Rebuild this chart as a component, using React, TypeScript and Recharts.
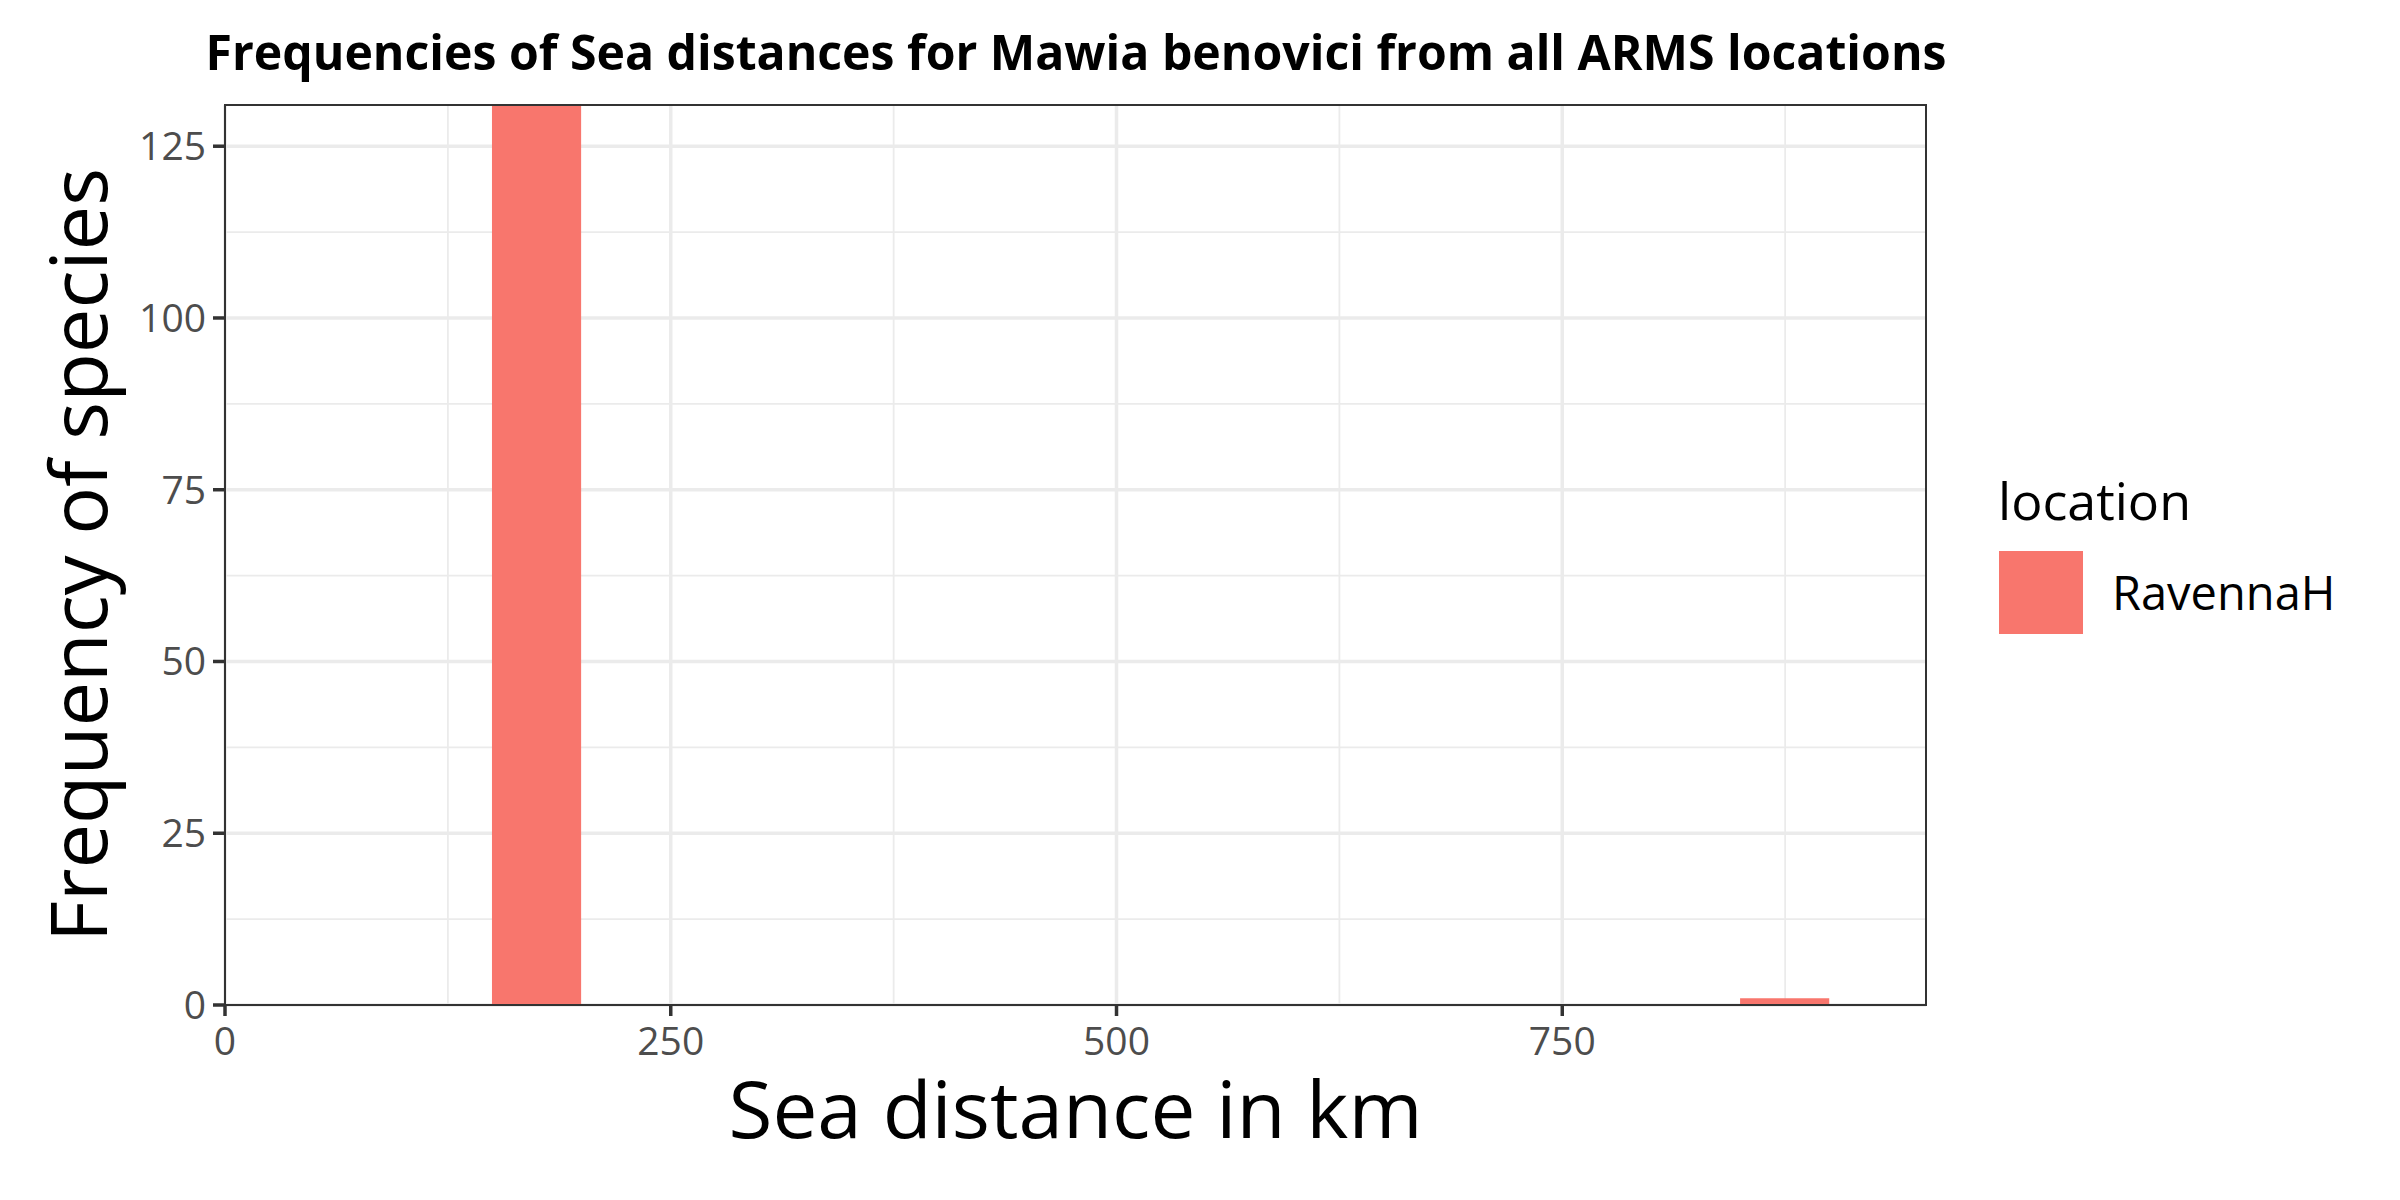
import React from "react";
import { BarChart, Bar, XAxis, YAxis, CartesianGrid, Legend, ReferenceArea } from "recharts";

// histogram bins (km) and counts
const binStart = [150, 850];
const binEnd = [200, 900];
const counts = [142, 1];
const seriesName = "RavennaH";

const xTicks = [0, 250, 500, 750];
const xMinor = [125, 375, 625, 875];
const yTicks = [0, 25, 50, 75, 100, 125];
const yMinor = [12.5, 37.5, 62.5, 87.5, 112.5];

const X_MAX = 954;
const Y_MAX = 131;

const W = 2400;
const H = 1200;
const PLOT_LEFT = 225;
const PLOT_RIGHT = 1926;
const PLOT_TOP = 105;
const PLOT_BOTTOM = 1005;
const X_AXIS_H = 60;

const FONT = "'Open Sans', 'DejaVu Sans', sans-serif";
const BAR_FILL = "#F8766D";
const INK = "#333333";

const data = binStart.map((s, i) => ({ mid: (s + binEnd[i]) / 2, count: counts[i] }));
const barPx = ((binEnd[0] - binStart[0]) / X_MAX) * (PLOT_RIGHT - PLOT_LEFT);

const tickStyle = { fontSize: 39, fill: "#4D4D4D", fontFamily: FONT };
const tickLine = { stroke: INK, strokeWidth: 3.5 };
const border = { stroke: INK, strokeWidth: 2 };

function LegendBox({ payload }: any) {
  const item = payload && payload[0];
  return (
    <svg width={400} height={220} style={{ overflow: "visible" }}>
      <text x={8} y={80} fontSize={52} fontFamily={FONT} fill="#000">location</text>
      <rect x={9} y={111} width={84} height={83} fill={item ? item.color : BAR_FILL} />
      <text x={122} y={170} fontSize={47} fontFamily={FONT} fill="#000">{item ? item.value : seriesName}</text>
    </svg>
  );
}

export default function App() {
  const midY = (PLOT_TOP + PLOT_BOTTOM) / 2;
  return (
    <div style={{ position: "absolute", left: 0, top: 0, width: W, height: H, background: "#fff" }}>
      <BarChart
        width={W}
        height={H}
        data={data}
        margin={{ top: PLOT_TOP, right: W - PLOT_RIGHT, bottom: H - PLOT_BOTTOM - X_AXIS_H, left: 0 }}
      >
        <CartesianGrid stroke="#EBEBEB" strokeWidth={1.8} horizontalValues={yMinor} verticalValues={xMinor} />
        <CartesianGrid stroke="#EBEBEB" strokeWidth={3.5} horizontalValues={yTicks} verticalValues={xTicks} />
        <XAxis
          type="number"
          dataKey="mid"
          domain={[0, X_MAX]}
          ticks={xTicks}
          allowDataOverflow
          height={X_AXIS_H}
          tickSize={11}
          tickMargin={11}
          tick={tickStyle}
          tickLine={tickLine}
          axisLine={border}
        />
        <YAxis
          type="number"
          domain={[0, Y_MAX]}
          ticks={yTicks}
          allowDataOverflow
          width={PLOT_LEFT}
          tickSize={12}
          tickMargin={7}
          tick={tickStyle}
          tickLine={tickLine}
          axisLine={border}
        />
        <Legend
          layout="horizontal"
          align="center"
          verticalAlign="middle"
          content={<LegendBox />}
          wrapperStyle={{ left: 1990, top: 440, width: 400, height: 220 }}
        />
        <Bar dataKey="count" name={seriesName} fill={BAR_FILL} barSize={barPx} isAnimationActive={false} />
        {/* panel border drawn on top of bars */}
        <ReferenceArea
          x1={0}
          x2={X_MAX}
          y1={0}
          y2={Y_MAX}
          fill="none"
          fillOpacity={0}
          stroke={INK}
          strokeWidth={2}
          ifOverflow="visible"
          zIndex={550}
        />
      </BarChart>
      <svg width={W} height={H} style={{ position: "absolute", left: 0, top: 0, pointerEvents: "none" }}>
        <text x={205.5} y={70} fontSize={49} fontWeight="bold" fontFamily={FONT} fill="#000" textLength={1741} lengthAdjust="spacingAndGlyphs">
          Frequencies of Sea distances for Mawia benovici from all ARMS locations
        </text>
        <text x={(PLOT_LEFT + PLOT_RIGHT) / 2} y={1138} fontSize={79} fontFamily={FONT} fill="#000" textAnchor="middle" textLength={694} lengthAdjust="spacingAndGlyphs">
          Sea distance in km
        </text>
        <text
          x={107}
          y={midY}
          fontSize={79}
          fontFamily={FONT}
          fill="#000"
          textAnchor="middle"
          transform={`rotate(-90, 107, ${midY})`}
          textLength={774}
          lengthAdjust="spacingAndGlyphs"
        >
          Frequency of species
        </text>
      </svg>
    </div>
  );
}
